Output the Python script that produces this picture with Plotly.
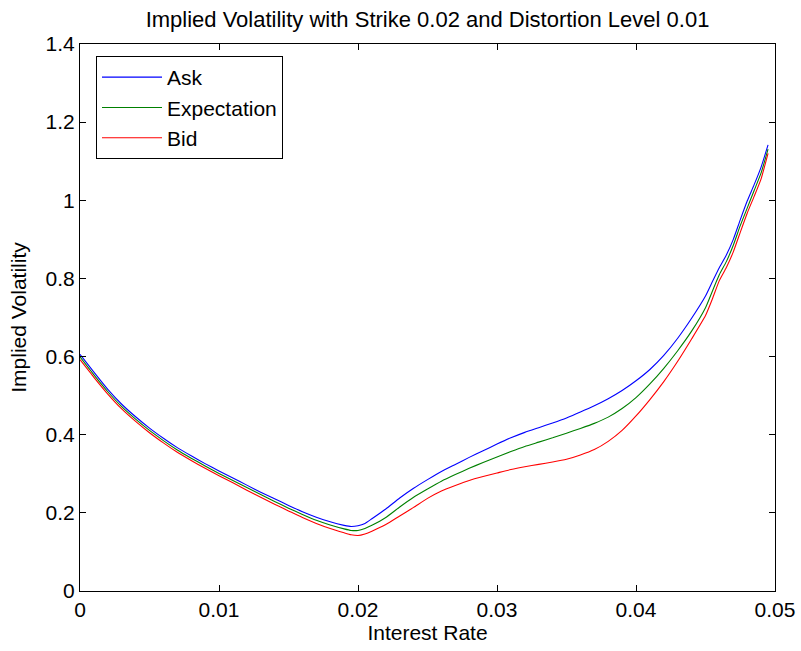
import plotly.graph_objects as go

interest_rate = [0, 0.001, 0.002, 0.003, 0.004, 0.005, 0.006, 0.007, 0.008, 0.009,
                 0.010, 0.011, 0.012, 0.013, 0.014, 0.015, 0.016, 0.017, 0.018, 0.019,
                 0.0195, 0.020, 0.0205, 0.021, 0.022, 0.023, 0.024, 0.025, 0.026, 0.027,
                 0.028, 0.029, 0.030, 0.031, 0.032, 0.033, 0.034, 0.035, 0.036, 0.037,
                 0.038, 0.039, 0.040, 0.041, 0.042, 0.043, 0.044, 0.045, 0.0455, 0.046,
                 0.0465, 0.047, 0.0475, 0.048, 0.0485, 0.049, 0.0495]

ask = [0.606, 0.560, 0.516, 0.478, 0.446, 0.417, 0.391, 0.367, 0.346, 0.326,
       0.307, 0.289, 0.271, 0.253, 0.236, 0.219, 0.203, 0.189, 0.177, 0.168,
       0.165, 0.167, 0.173, 0.185, 0.210, 0.238, 0.263, 0.285, 0.306, 0.324,
       0.342, 0.359, 0.376, 0.392, 0.406, 0.418, 0.430, 0.443, 0.458, 0.474,
       0.492, 0.513, 0.538, 0.567, 0.603, 0.647, 0.698, 0.755, 0.792, 0.828,
       0.860, 0.900, 0.950, 0.998, 1.040, 1.085, 1.142]

expectation = [0.599, 0.553, 0.510, 0.472, 0.440, 0.411, 0.385, 0.361, 0.340, 0.320,
               0.301, 0.283, 0.265, 0.247, 0.229, 0.212, 0.196, 0.181, 0.169, 0.159,
               0.155, 0.155, 0.160, 0.168, 0.188, 0.215, 0.240, 0.261, 0.281, 0.298,
               0.314, 0.329, 0.343, 0.357, 0.370, 0.381, 0.392, 0.404, 0.416, 0.429,
               0.445, 0.467, 0.495, 0.530, 0.570, 0.615, 0.665, 0.725, 0.768, 0.810,
               0.843, 0.885, 0.935, 0.980, 1.025, 1.070, 1.131]

bid = [0.592, 0.547, 0.504, 0.466, 0.434, 0.405, 0.379, 0.355, 0.334, 0.314,
       0.295, 0.277, 0.258, 0.240, 0.222, 0.205, 0.188, 0.173, 0.160, 0.149,
       0.144, 0.142, 0.146, 0.153, 0.170, 0.192, 0.214, 0.237, 0.256, 0.270,
       0.283, 0.293, 0.302, 0.311, 0.318, 0.324, 0.330, 0.337, 0.348, 0.362,
       0.383, 0.411, 0.448, 0.490, 0.536, 0.588, 0.645, 0.705, 0.748, 0.795,
       0.828, 0.868, 0.918, 0.967, 1.010, 1.055, 1.120]

x_ticks = [0, 0.01, 0.02, 0.03, 0.04, 0.05]
x_tick_labels = ["0", "0.01", "0.02", "0.03", "0.04", "0.05"]
y_ticks = [0, 0.2, 0.4, 0.6, 0.8, 1.0, 1.2, 1.4]
y_tick_labels = ["0", "0.2", "0.4", "0.6", "0.8", "1", "1.2", "1.4"]

font_family = "Liberation Sans, Arial, Helvetica, sans-serif"
fs = 21

fig = go.Figure()
fig.add_trace(go.Scatter(x=interest_rate, y=ask, mode="lines", name="Ask",
                         line=dict(color="#0000ff", width=1.1, shape="spline", smoothing=0.5)))
fig.add_trace(go.Scatter(x=interest_rate, y=expectation, mode="lines", name="Expectation",
                         line=dict(color="#008000", width=1.1, shape="spline", smoothing=0.5)))
fig.add_trace(go.Scatter(x=interest_rate, y=bid, mode="lines", name="Bid",
                         line=dict(color="#ff0000", width=1.1, shape="spline", smoothing=0.5)))

axis_common = dict(
    showline=True, linecolor="black", linewidth=1, mirror="ticks",
    ticks="inside", ticklen=6, tickcolor="black", tickwidth=1,
    showgrid=False, zeroline=False, automargin=False,
    tickfont=dict(family=font_family, size=fs, color="black"),
)

fig.update_layout(
    width=801, height=651,
    margin=dict(l=80, r=26, t=44, b=60),
    paper_bgcolor="white", plot_bgcolor="white",
    font=dict(family=font_family, size=fs, color="black"),
    title=dict(text="Implied Volatility with Strike 0.02 and Distortion Level 0.01",
               x=0.5, xref="paper", xanchor="center", y=1 - 19 / 651, yanchor="middle",
               font=dict(family=font_family, size=22, color="black")),
    xaxis=dict(range=[0, 0.05], tickvals=x_ticks, ticktext=x_tick_labels,
               title=dict(text="Interest Rate", standoff=3,
                          font=dict(family=font_family, size=fs, color="black")),
               **axis_common),
    yaxis=dict(range=[0, 1.4], tickvals=y_ticks, ticktext=y_tick_labels,
               title=dict(text="Implied Volatility", standoff=13,
                          font=dict(family=font_family, size=fs, color="black")),
               **axis_common),
    legend=dict(x=(96 - 80) / 695, y=1 - (56 - 44) / 547, xanchor="left", yanchor="top",
                bordercolor="black", borderwidth=1, bgcolor="white",
                font=dict(family=font_family, size=fs, color="black"),
                itemwidth=60, tracegroupgap=0),
    showlegend=True,
)

fig.write_html("out.html")
